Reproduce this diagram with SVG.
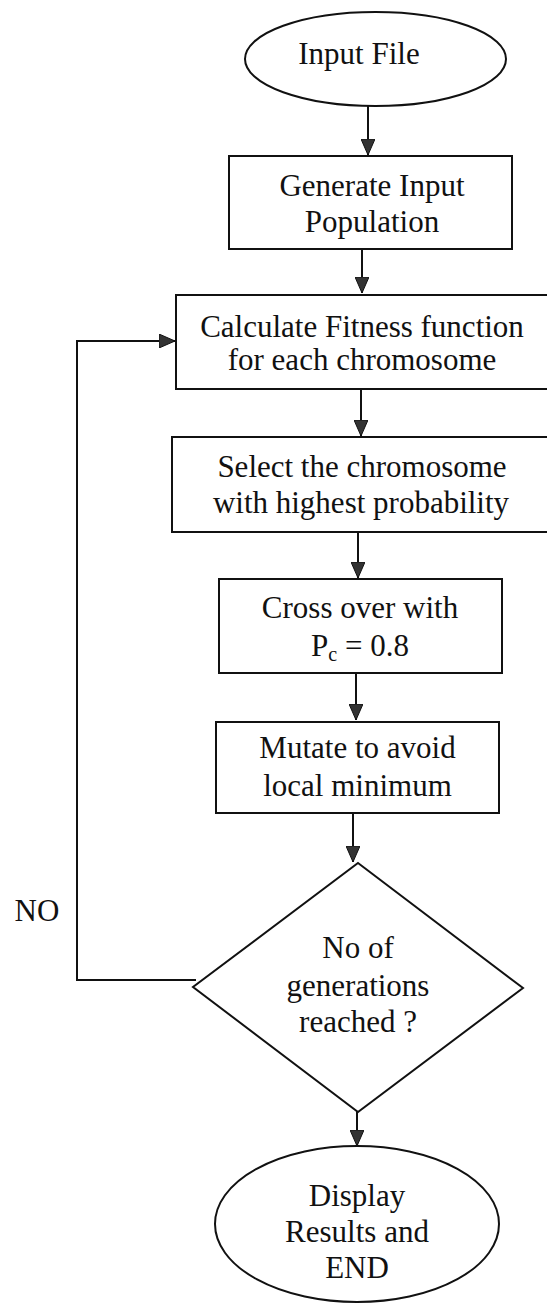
<svg xmlns="http://www.w3.org/2000/svg" width="547" height="1306" viewBox="0 0 547 1306">
<style>
.shape{fill:#fff;stroke:#111;stroke-width:2}
.t{font-family:"Liberation Serif","Times New Roman",serif;font-size:31px;fill:#111;text-anchor:middle}
.c{fill:none;stroke:#111;stroke-width:2}
</style>
<defs>
<marker id="ah" viewBox="0 0 16 14" refX="16" refY="7" markerWidth="16" markerHeight="14" markerUnits="userSpaceOnUse" orient="auto">
<path d="M0,0 L16,7 L0,14 Z" fill="#333" stroke="#111" stroke-width="1"/>
</marker>
</defs>
<rect width="547" height="1306" fill="#fff"/>
<g id="connectors">
<line class="c" x1="368" y1="106" x2="368" y2="155" marker-end="url(#ah)"/>
<line class="c" x1="362" y1="249" x2="362" y2="293" marker-end="url(#ah)"/>
<line class="c" x1="361" y1="390" x2="361" y2="436" marker-end="url(#ah)"/>
<line class="c" x1="358" y1="532" x2="358" y2="578" marker-end="url(#ah)"/>
<line class="c" x1="356" y1="673" x2="356" y2="720" marker-end="url(#ah)"/>
<line class="c" x1="353" y1="813" x2="353" y2="862" marker-end="url(#ah)"/>
<line class="c" x1="357" y1="1100" x2="357" y2="1146" marker-end="url(#ah)"/>
<polyline class="c" points="196,980 77,980 77,341 175,341" marker-end="url(#ah)"/>
<text class="t" x="37" y="921">NO</text>
</g>
<g id="input-file">
<ellipse class="shape" cx="375.5" cy="59" rx="130.5" ry="47"/>
<text class="t" x="359" y="64">Input File</text>
</g>
<g id="generate">
<rect class="shape" x="229" y="156" width="283" height="93"/>
<text class="t" x="372" y="196">Generate Input</text>
<text class="t" x="372" y="232">Population</text>
</g>
<g id="fitness">
<rect class="shape" x="176" y="295" width="380" height="94"/>
<text class="t" x="362" y="337">Calculate Fitness function</text>
<text class="t" x="362" y="370">for each chromosome</text>
</g>
<g id="select">
<rect class="shape" x="172" y="437" width="384" height="95"/>
<text class="t" x="362" y="477">Select the chromosome</text>
<text class="t" x="361" y="513">with highest probability</text>
</g>
<g id="crossover">
<rect class="shape" x="219" y="579" width="283" height="94"/>
<text class="t" x="360" y="618">Cross over with</text>
<text class="t" x="360" y="656">P<tspan font-size="20" dy="5">c</tspan><tspan dy="-5"> = 0.8</tspan></text>
</g>
<g id="mutate">
<rect class="shape" x="216" y="722" width="283" height="91"/>
<text class="t" x="357.5" y="758">Mutate to avoid</text>
<text class="t" x="357.5" y="796">local minimum</text>
</g>
<g id="decision">
<polygon class="shape" points="358,863 523,988 358,1112 193,987" stroke-width="1.6"/>
<text class="t" x="358" y="958">No of</text>
<text class="t" x="358" y="996">generations</text>
<text class="t" x="358" y="1032">reached ?</text>
</g>
<g id="end">
<ellipse class="shape" cx="357" cy="1224" rx="142" ry="78"/>
<text class="t" x="357" y="1206">Display</text>
<text class="t" x="357" y="1242">Results and</text>
<text class="t" x="357" y="1278">END</text>
</g>
</svg>
